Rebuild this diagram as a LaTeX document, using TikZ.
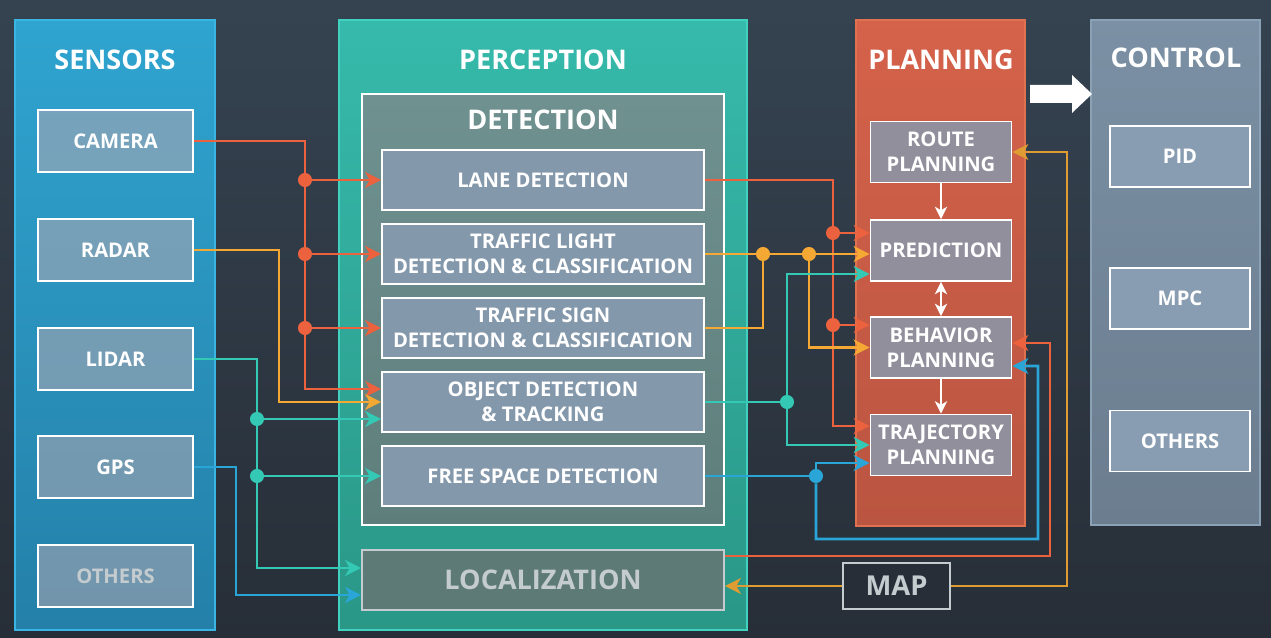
\documentclass[tikz,border=0pt]{standalone}
\usepackage{fontspec}
\setmainfont{Open Sans}
\newfontfamily\boxfont{Open Sans}
\usetikzlibrary{arrows.meta,calc}

\definecolor{bgtop}{HTML}{354351}
\definecolor{bgbot}{HTML}{272E37}
\definecolor{senstop}{HTML}{2FA4D0}
\definecolor{sensbot}{HTML}{2480A8}
\definecolor{sensedge}{HTML}{3AB4E2}
\definecolor{sensover}{RGB}{192,169,175}
\definecolor{perctop}{HTML}{36BAAB}
\definecolor{percbot}{HTML}{2A9787}
\definecolor{percedge}{HTML}{40D2BF}
\definecolor{dettop}{HTML}{6F9190}
\definecolor{detbot}{HTML}{5E7E7B}
\definecolor{detbox}{HTML}{8498AC}
\definecolor{locfill}{HTML}{5E7A77}
\definecolor{plantop}{HTML}{D5624A}
\definecolor{planbot}{HTML}{BA5541}
\definecolor{planedge}{HTML}{E0714F}
\definecolor{planbox}{HTML}{928F9C}
\definecolor{ctrltop}{HTML}{7B90A4}
\definecolor{ctrlbot}{HTML}{6B7D8F}
\definecolor{ctrledge}{HTML}{8BA1B6}
\definecolor{ctrlbox}{HTML}{889DB2}
\definecolor{dimtext}{HTML}{C4CCCF}
\definecolor{camc}{HTML}{EC623E}
\definecolor{radc}{HTML}{F5A833}
\definecolor{lidc}{HTML}{33C9B4}
\definecolor{gpsc}{HTML}{2AA5D8}
\definecolor{mapc}{HTML}{DE9C32}

\begin{document}
\begin{tikzpicture}[x=0.02cm,y=-0.02cm,
  >={Stealth[length=9pt,width=9pt,inset=2.5pt]},
  title/.style={text=white,font=\boxfont\bfseries\fontsize{15.4}{18}\selectfont},
  box/.style={draw=white,line width=1.1pt,text=white,align=center,inner sep=1pt,
    font=\boxfont\bfseries\fontsize{11.5}{14.2}\selectfont},
  sensbox/.style={box,fill=sensover,fill opacity=.5,text opacity=1,minimum width=3.1cm,minimum height=1.24cm},
  detbox/.style={box,fill=detbox,minimum width=6.44cm,minimum height=1.2cm},
  planbox/.style={box,fill=planbox,minimum width=2.82cm,minimum height=1.22cm},
  ctrlbox/.style={box,fill=ctrlbox,minimum width=2.8cm,minimum height=1.22cm},
  wire/.style={line width=1.6pt},
  wtip/.tip={Stealth[length=7pt,width=7pt,inset=2pt]},
  warrow/.style={white,line width=1.5pt,-wtip},
  jdot/.style={circle,inner sep=0pt,minimum size=8pt}]
  \shade[top color=bgtop,bottom color=bgbot] (0,0) rectangle (1271,638);

  \shade[top color=senstop,bottom color=sensbot,draw=sensedge,line width=1.2pt] (15,20) rectangle (215,630);
  \shade[top color=perctop,bottom color=percbot,draw=percedge,line width=1.2pt] (339,20) rectangle (747,630);
  \shade[top color=dettop,bottom color=detbot,draw=white,line width=1.1pt] (362,94) rectangle (724,525);
  \shade[top color=plantop,bottom color=planbot,draw=planedge,line width=1.2pt] (856,20) rectangle (1025,526);
  \shade[top color=ctrltop,bottom color=ctrlbot,draw=ctrledge,line width=1.2pt] (1091,20) rectangle (1260,525);
  \fill[white] (1030,85) -- (1072,85) -- (1072,75) -- (1092,94) -- (1072,113) -- (1072,103) -- (1030,103) -- cycle;

  \node[title] (senst) at (115,60) {SENSORS};
  \node[title] (perct) at (543,60) {PERCEPTION};
  \node[title] (dett) at (543,120) {DETECTION};
  \node[title] (plant) at (941,60) {PLANNING};
  \node[title] (ctrlt) at (1176,58) {CONTROL};

  \node[sensbox] (cam) at (115.5,141) {CAMERA};
  \node[sensbox] (radar) at (115.5,250) {RADAR};
  \node[sensbox] (lidar) at (115.5,359) {LIDAR};
  \node[sensbox] (gps) at (115.5,467) {GPS};
  \node[sensbox,text=dimtext] (sothers) at (115.5,576) {OTHERS};

  \node[detbox] (lane) at (543,180) {LANE DETECTION};
  \node[detbox] (tl) at (543,254) {TRAFFIC LIGHT\\DETECTION \& CLASSIFICATION};
  \node[detbox] (ts) at (543,328) {TRAFFIC SIGN\\DETECTION \& CLASSIFICATION};
  \node[detbox] (obj) at (543,402) {OBJECT DETECTION\\\& TRACKING};
  \node[detbox] (free) at (543,476) {FREE SPACE DETECTION};
  \node[box,draw=dimtext,fill=locfill,text=dimtext,minimum width=7.24cm,minimum height=1.2cm,
    font=\boxfont\bfseries\fontsize{15.4}{18}\selectfont] (loc) at (543,580) {LOCALIZATION};

  \node[planbox] (route) at (941,152) {ROUTE\\PLANNING};
  \node[planbox] (pred) at (941,250.5) {PREDICTION};
  \node[planbox] (behav) at (941,347.5) {BEHAVIOR\\PLANNING};
  \node[planbox] (traj) at (941,445) {TRAJECTORY\\PLANNING};

  \node[ctrlbox] (pid) at (1180,156.5) {PID};
  \node[ctrlbox] (mpc) at (1180,298.5) {MPC};
  \node[ctrlbox] (cothers) at (1180,441) {OTHERS};

  \node[box,draw=dimtext,fill=bgbot,text=dimtext,minimum width=2.14cm,minimum height=0.92cm,
    font=\boxfont\bfseries\fontsize{15.6}{18}\selectfont] (map) at (896.5,586) {MAP};

  \draw[wire,camc,->] (cam.east) -| (305,389) -- ($(obj.west)+(0,-13)$);
  \node[jdot,fill=camc] (jc1) at (305,180) {};
  \node[jdot,fill=camc] (jc2) at (305,254) {};
  \node[jdot,fill=camc] (jc3) at (305,328) {};
  \draw[wire,camc,->] (jc1) -- (lane.west);
  \draw[wire,camc,->] (jc2) -- (tl.west);
  \draw[wire,camc,->] (jc3) -- (ts.west);

  \draw[wire,radc,->] (radar.east) -| (279,402) -- (obj.west);

  \draw[wire,lidc,->] (lidar.east) -| (257,568) -- ($(loc.west)+(0,-12)$);
  \node[jdot,fill=lidc] (jl1) at (257,419) {};
  \node[jdot,fill=lidc] (jl2) at (257,476) {};
  \draw[wire,lidc,->] (jl1) -- ($(obj.west)+(0,17)$);
  \draw[wire,lidc,->] (jl2) -- (free.west);

  \draw[wire,gpsc,->] (gps.east) -| (236,595) -- ($(loc.west)+(0,15)$);

  \draw[wire,camc,->] (lane.east) -| (833,426) -- ($(traj.west)+(0,-19)$);
  \node[jdot,fill=camc] (jp1) at (833,233) {};
  \node[jdot,fill=camc] (jp2) at (833,325) {};
  \draw[wire,camc,->] (jp1) -- ($(pred.west)+(0,-17.5)$);
  \draw[wire,camc,->] (jp2) -- ($(behav.west)+(0,-22.5)$);

  \draw[wire,radc,->] (tl.east) -- (tl.east -| pred.west);
  \node[jdot,fill=radc] (jy1) at (763,254) {};
  \node[jdot,fill=radc] (jy2) at (809,254) {};
  \draw[wire,radc] (ts.east) -| (jy1);
  \draw[wire,radc,->] (jy2) |- (behav.west);

  \node[jdot,fill=lidc] (jt) at (787,402) {};
  \draw[wire,lidc] (obj.east) -- (jt);
  \draw[wire,lidc,->] (jt) |- ($(pred.west)+(0,23.5)$);
  \draw[wire,lidc,->] (jt) |- (traj.west);

  \node[jdot,fill=gpsc] (jf) at (816,476) {};
  \draw[wire,gpsc] (free.east) -- (jf);
  \draw[wire,gpsc,->] (jf) |- ($(traj.west)+(0,18)$);
  \draw[wire,gpsc,->] (jf) |- (1038,539) -- (1038,366) -- ($(behav.east)+(0,18.5)$);

  \draw[wire,camc,->] ($(loc.east)+(0,-24)$) -| (1050,343) -- ($(behav.east)+(0,-4.5)$);
  \draw[wire,mapc,->] (map.east) -| (1067,152) -- (route.east);
  \draw[wire,mapc,->] (map.west) -- (map.west -| loc.east);

  \draw[warrow] (route) -- (pred);
  \draw[warrow,wtip-wtip] (pred) -- (behav);
  \draw[warrow] (behav) -- (traj);
\end{tikzpicture}
\end{document}
